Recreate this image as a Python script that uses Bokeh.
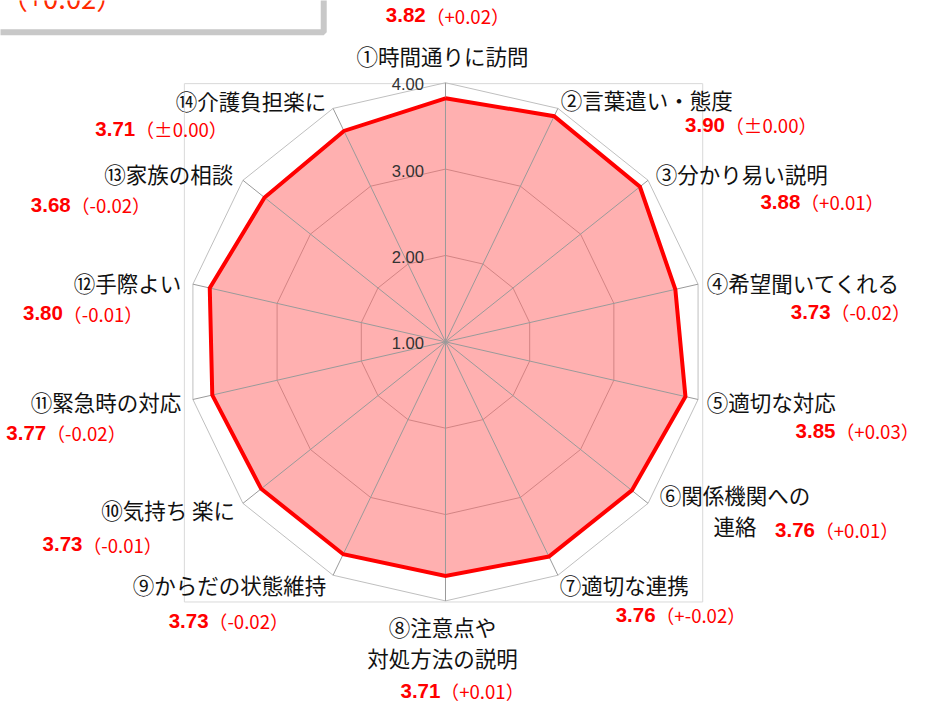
import math
from bokeh.plotting import figure
from bokeh.models import Range1d
from bokeh.core.properties import value
from bokeh.embed import file_html
from bokeh.resources import INLINE

# ---------------- data ----------------
categories = ["①時間通りに訪問", "②言葉遣い・態度", "③分かり易い説明", "④希望聞いてくれる",
              "⑤適切な対応", "⑥関係機関への\n連絡", "⑦適切な連携", "⑧注意点や\n対処方法の説明",
              "⑨からだの状態維持", "⑩気持ち 楽に", "⑪緊急時の対応", "⑫手際よい",
              "⑬家族の相談", "⑭介護負担楽に"]
scores = [3.82, 3.90, 3.88, 3.73, 3.85, 3.76, 3.76, 3.71, 3.73, 3.73, 3.77, 3.80, 3.68, 3.71]
changes = ["（+0.02）", "（±0.00）", "（+0.01）", "（-0.02）", "（+0.03）", "（+0.01）", "（+-0.02）",
           "（+0.01）", "（-0.02）", "（-0.01）", "（-0.02）", "（-0.01）", "（-0.02）", "（±0.00）"]
box_text = "（+0.02）"
axis_ticks = [1.0, 2.0, 3.0, 4.0]
axis_min, axis_max = 1.0, 4.0

# ---------------- layout ----------------
W, H = 919, 704
S = 0.978           # figure pixels per reference pixel
K = 88.3            # reference pixels per score unit
CX, CY = 455, 349   # centre of radar in reference pixels


def P(px, py):
    """reference pixel -> data coordinates"""
    return (px - CX) / K, (CY - py) / K


def fs(px):
    return f"{px * S:.1f}px"


n = len(categories)
angles = [2 * math.pi * i / n for i in range(n)]


def polar(v, a):
    r = v - axis_min
    return r * math.sin(a), r * math.cos(a)


p = figure(width=W, height=H, output_backend="svg", toolbar_location=None,
           x_range=Range1d((0 - CX) / K, (W / S - CX) / K),
           y_range=Range1d((CY - H / S) / K, (CY - 0) / K),
           x_axis_type=None, y_axis_type=None, min_border=0)
p.outline_line_color = None
p.grid.visible = False
p.background_fill_color = "white"
p.border_fill_color = "white"

# cut-off text box at top-left
bx0, by0 = P(-30, -60)
bx1, by1 = P(330.5, 32.5)
p.quad(left=bx0, right=bx1, top=by0, bottom=by1, fill_color="white",
       line_color="#C8C8C8", line_width=6)
tbx, tby = P(0, -3.5)
p.text(x=[tbx], y=[tby], text=[box_text], text_align="left", text_baseline="alphabetic",
       text_font=value("Noto Sans CJK JP"), text_font_size=fs(28), text_color="#FF2A00")

# plot-area border
ax0, ay0 = P(188, 85)
ax1, ay1 = P(718, 615)
p.quad(left=ax0, right=ax1, top=ay0, bottom=ay1, fill_color=None,
       line_color="#D9D9D9", line_width=1)

# rings (value gridlines, behind the series)
ring_x, ring_y = [], []
for t in axis_ticks:
    if t <= axis_min:
        continue
    rp = [polar(t, a) for a in angles]
    ring_x.append([q[0] for q in rp] + [rp[0][0]])
    ring_y.append([q[1] for q in rp] + [rp[0][1]])
p.multi_line(ring_x, ring_y, line_color="#BFBFBF", line_width=1)

# series fill (semi-transparent)
pts = [polar(v, a) for v, a in zip(scores, angles)]
xs = [q[0] for q in pts]
ys = [q[1] for q in pts]
p.patch(xs, ys, fill_color="#FF0000", fill_alpha=0.31, line_color=None)

# spokes
outer = [polar(axis_max, a) for a in angles]
p.segment(x0=[0] * n, y0=[0] * n, x1=[q[0] for q in outer], y1=[q[1] for q in outer],
          line_color="#9A9A9A", line_width=1)

# series line
p.line(xs + [xs[0]], ys + [ys[0]], line_color="#FF0000", line_width=4, line_join="miter")

# axis tick labels
tx = (433 - CX) / K
p.text(x=[tx] * len(axis_ticks), y=[t - axis_min - 1.5 / K for t in axis_ticks],
       text=[f"{t:.2f}" for t in axis_ticks], text_align="right", text_baseline="middle",
       text_font=value("Liberation Sans"), text_font_size=fs(17), text_color="#333333")

# category labels
LINE_GAP = 32
cat_offsets = [(-3, -28, "center"), (3, -9, "left"), (8, -7, "left"), (9, -2, "left"),
               (9, 2, "left"), (89, 7, "center"), (2, 9, "left"), (-3, 42, "center"),
               (-7, 9, "right"), (-8, 6, "right"), (-12, 2, "right"), (-12, -2, "right"),
               (-10, -7, "right"), (-7, -8, "right")]
for i, (lab, (dx, dy, al)) in enumerate(zip(categories, cat_offsets)):
    vx, vy = outer[i]
    lines = lab.split("\n")
    m = len(lines)
    for j, ln in enumerate(lines):
        ddy = dy + (j - (m - 1) / 2) * LINE_GAP
        p.text(x=[vx + dx / K], y=[vy - ddy / K], text=[ln], text_align=al,
               text_baseline="middle", text_font=value("Noto Sans CJK JP"),
               text_font_size=fs(22), text_color="#111111")

# value labels (text boxes)
val_pos = [(394, 15), (700, 127), (777, 206), (808, 318), (813, 440), (792, 541),
           (629, 628), (409, 706), (172, 634), (43, 556), (6, 442), (23, 320),
           (31, 209), (97, 131)]
NUM_W = 41
for s, c, (px, py) in zip(scores, changes, val_pos):
    x0, y0 = P(px, py)
    p.text(x=[x0], y=[y0], text=[f"{s:.2f}"], text_align="left", text_baseline="middle",
           text_font=value("Liberation Sans"), text_font_style="bold",
           text_font_size=fs(21), text_color="#FF0000")
    p.text(x=[x0 + NUM_W / K], y=[y0], text=[c], text_align="left", text_baseline="middle",
           text_font=value("Noto Sans CJK JP"), text_font_size=fs(19), text_color="#FF0000")

open("out.html", "w").write(file_html(p, INLINE))
